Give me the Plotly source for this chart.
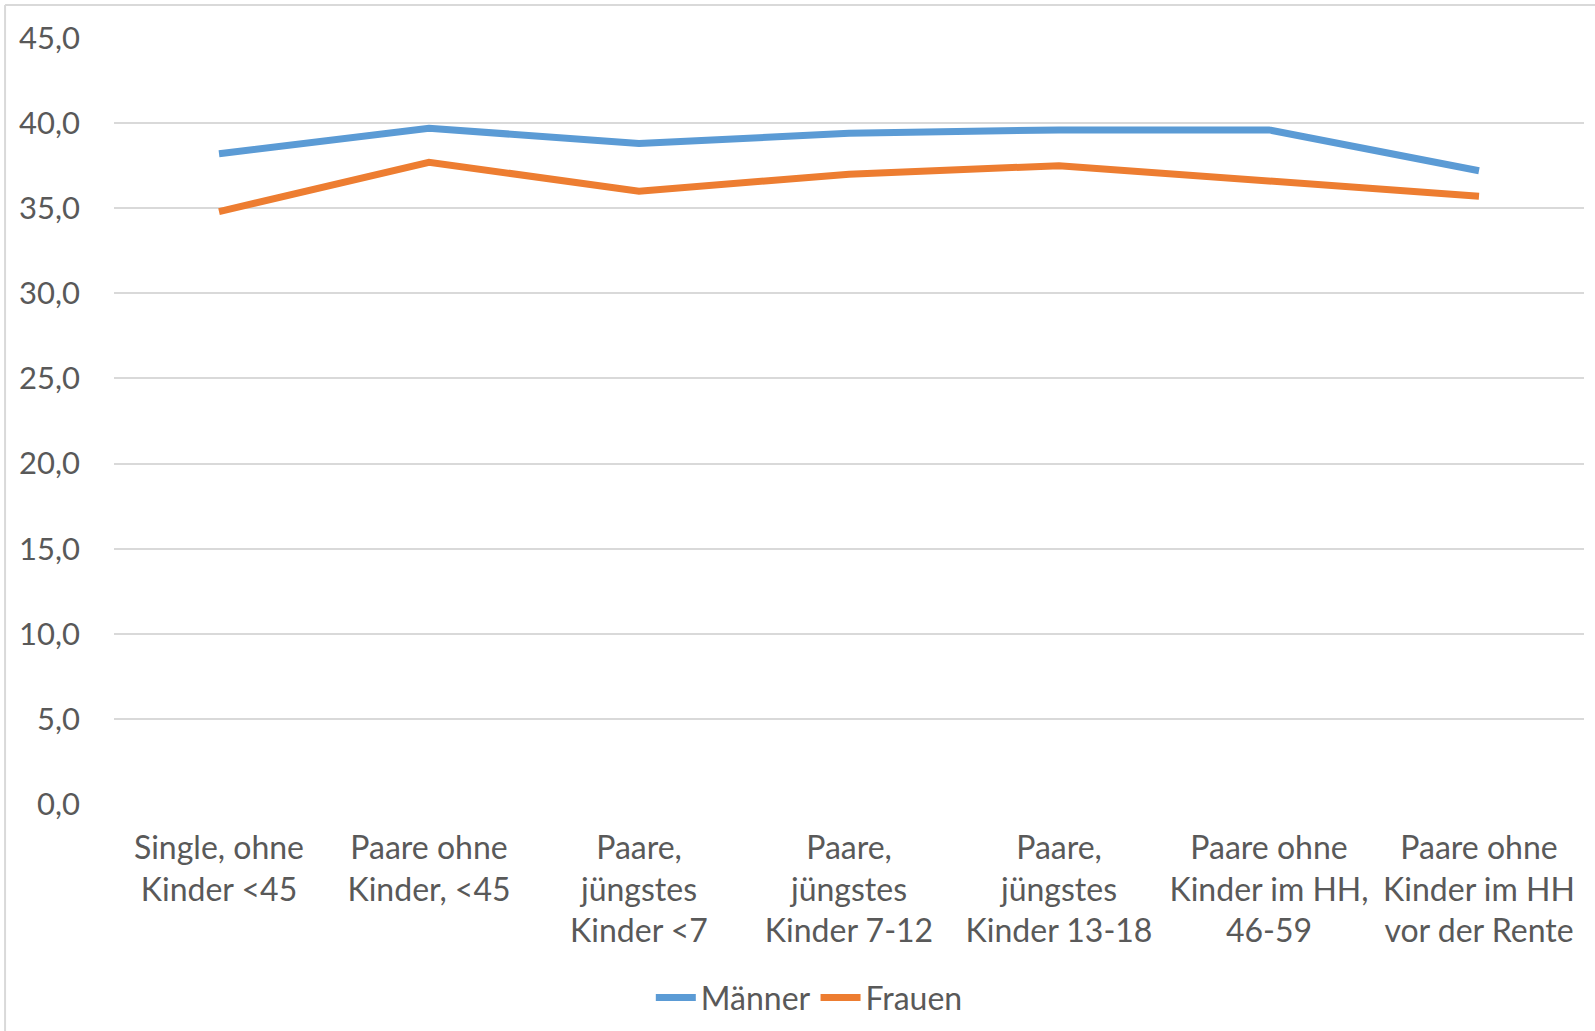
"""Line chart: Männer vs. Frauen by household type."""
import plotly.graph_objects as go

categories = [
    "Single, ohne<br>Kinder &lt;45",
    "Paare ohne<br>Kinder, &lt;45",
    "Paare,<br>jüngstes<br>Kinder &lt;7",
    "Paare,<br>jüngstes<br>Kinder 7-12",
    "Paare,<br>jüngstes<br>Kinder 13-18",
    "Paare ohne<br>Kinder im HH,<br>46-59",
    "Paare ohne<br>Kinder im HH<br>vor der Rente",
]
maenner = [38.2, 39.7, 38.8, 39.4, 39.6, 39.6, 37.2]
frauen = [34.8, 37.7, 36.0, 37.0, 37.5, 36.6, 35.7]
y_ticks = [0, 5, 10, 15, 20, 25, 30, 35, 40, 45]
y_labels = [f"{v:.1f}".replace(".", ",") for v in y_ticks]

FONT = "Lato, 'Open Sans', sans-serif"
TEXT = "#595959"
GRID = "#D9D9D9"

fig = go.Figure()
fig.add_trace(go.Scatter(
    x=categories, y=maenner, mode="lines", name="Männer",
    line=dict(color="#5B9BD5", width=7),
))
fig.add_trace(go.Scatter(
    x=categories, y=frauen, mode="lines", name="Frauen",
    line=dict(color="#ED7D31", width=7),
))

# chart-area frame (only top/left edges are visible in the original crop)
fig.add_shape(type="line", xref="paper", yref="paper",
              x0=-0.0741, x1=1.1, y0=1.0431, y1=1.0431,
              line=dict(color=GRID, width=2))
fig.add_shape(type="line", xref="paper", yref="paper",
              x0=-0.0741, x1=-0.0741, y0=1.0431, y1=-0.4,
              line=dict(color=GRID, width=2))

fig.update_layout(
    width=1595, height=1031,
    margin=dict(l=114, r=11, t=38, b=227, autoexpand=False),
    paper_bgcolor="white", plot_bgcolor="white",
    font=dict(family=FONT, size=32, color=TEXT),
    showlegend=True,
    legend=dict(orientation="h", x=0.473, xanchor="center",
                y=-0.253, yanchor="middle", font=dict(size=32, color=TEXT),
                itemwidth=40, tracegroupgap=0),
    xaxis=dict(range=[-0.5, len(categories) - 0.5], automargin=False,
               showgrid=False, showline=False, ticks="",
               tickfont=dict(size=32, color=TEXT), ticklabelstandoff=22),
    yaxis=dict(range=[0, 45], tickvals=y_ticks, ticktext=y_labels,
               automargin=False,
               showgrid=True, gridcolor=GRID, gridwidth=2,
               zeroline=False, showline=False, ticks="",
               tickfont=dict(size=31, color=TEXT), ticklabelstandoff=33),
)

fig.write_html("out.html", config={"displayModeBar": False},
               post_script="document.body.style.margin='0';")
